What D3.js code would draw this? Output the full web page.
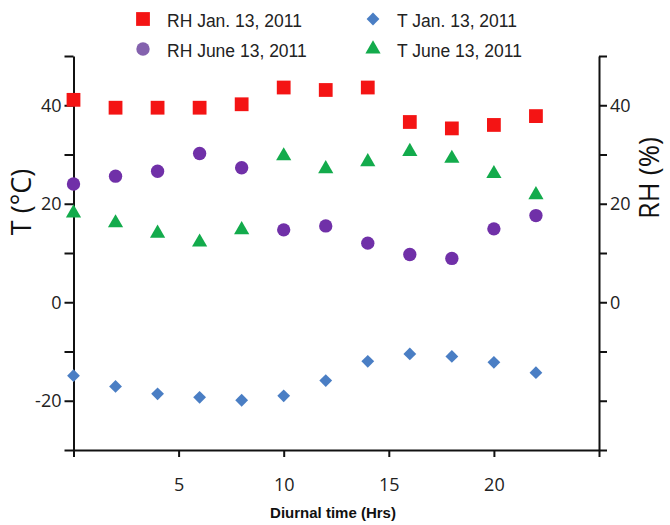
<!DOCTYPE html>
<html>
<head>
<meta charset="utf-8">
<script src="https://cdn.jsdelivr.net/npm/d3@7"></script>
<style>
  body { margin: 0; background: #fff; }
  .axis path, .axis line { stroke: #111; stroke-width: 2px; }
  .axis text { font-family: "Open Sans", sans-serif; font-size: 18px; fill: #222; }
</style>
</head>
<body>
<div id="vis"></div>
<script>
const width = 670, height = 525;

// data
const hours = [0, 2, 4, 6, 8, 10, 12, 14, 16, 18, 20, 22];
const rhJan = [41.1, 39.5, 39.5, 39.5, 40.2, 43.6, 43.1, 43.6, 36.6, 35.3, 36.0, 37.8];
const rhJune = [24.0, 25.6, 26.6, 30.2, 27.3, 14.7, 15.5, 12.0, 9.7, 8.9, 14.9, 17.6];
const tJan = [-14.9, -17.1, -18.6, -19.3, -19.9, -19.0, -15.9, -12.0, -10.5, -11.0, -12.2, -14.3];
const tJune = [18.1, 16.1, 14.0, 12.2, 14.7, 29.7, 27.1, 28.5, 30.6, 29.2, 26.1, 21.8];

const xTicks = [0, 5, 10, 15, 20, 25];
const yTicks = [-30, -20, -10, 0, 10, 20, 30, 40, 50];
const leftLabels = [-20, 0, 20, 40];
const rightLabels = [0, 20, 40];

const series = [
    { name: 'RH Jan. 13, 2011', values: rhJan, axis: 'right', shape: 'square', color: '#f41414' },
    { name: 'RH June 13, 2011', values: rhJune, axis: 'right', shape: 'circle', color: '#7030a8' },
    { name: 'T Jan. 13, 2011', values: tJan, axis: 'left', shape: 'diamond', color: '#4a7ec4' },
    { name: 'T June 13, 2011', values: tJune, axis: 'left', shape: 'triangle', color: '#13ab4c' }
];

const svg = d3.select('#vis')
    .append('svg')
    .attr('width', width)
    .attr('height', height);

svg.append('rect').attr('width', width).attr('height', height).attr('fill', '#fff');

const xScale = d3.scaleLinear().domain([0, 25]).range([73.5, 599]);
const yLeft = d3.scaleLinear().domain([-30, 50]).range([450, 56]);
const yRight = d3.scaleLinear().domain([-30, 50]).range([450, 56]);

function symbolPath(shape) {
    if (shape === 'square') return d3.symbol(d3.symbolSquare, 190)();
    if (shape === 'circle') return d3.symbol(d3.symbolCircle, 140)();
    if (shape === 'triangle') return d3.symbol(d3.symbolTriangle, 100)();
    return d3.symbol(d3.symbolSquare, 82)();
}

// axes
svg.append('g')
    .attr('class', 'axis')
    .attr('transform', 'translate(0,450)')
    .call(d3.axisBottom(xScale).tickValues(xTicks).tickSize(7).tickSizeOuter(0).tickPadding(21)
        .tickFormat(d => (d === 0 || d === 25) ? '' : d));

svg.append('g')
    .attr('class', 'axis')
    .attr('transform', 'translate(73.5,0)')
    .call(d3.axisLeft(yLeft).tickValues(yTicks).tickSize(9).tickSizeOuter(0).tickPadding(3)
        .tickFormat(d => leftLabels.includes(d) ? d : ''));

svg.append('g')
    .attr('class', 'axis')
    .attr('transform', 'translate(599,0)')
    .call(d3.axisRight(yRight).tickValues(yTicks).tickSize(8).tickSizeOuter(0).tickPadding(3)
        .tickFormat(d => rightLabels.includes(d) ? d : ''));

// axis titles
svg.append('text')
    .attr('transform', 'translate(31,202) rotate(-90)')
    .attr('text-anchor', 'middle')
    .style('font-family', '"Open Sans", sans-serif')
    .style('font-size', '27px')
    .style('fill', '#111')
    .text('T (°C)');

svg.append('text')
    .attr('transform', 'translate(659,178) rotate(-90)')
    .attr('text-anchor', 'middle')
    .style('font-family', '"Open Sans", sans-serif')
    .style('font-size', '27px')
    .style('fill', '#111')
    .text('RH (%)');

svg.append('text')
    .attr('x', 333)
    .attr('y', 518)
    .attr('text-anchor', 'middle')
    .style('font-family', '"Liberation Sans", Arial, sans-serif')
    .style('font-size', '15px')
    .style('font-weight', 'bold')
    .style('fill', '#111')
    .text('Diurnal time (Hrs)');

// points
series.forEach(s => {
    const yScale = s.axis === 'left' ? yLeft : yRight;
    svg.append('g')
        .selectAll('path')
        .data(hours.map((h, i) => ({ h: h, v: s.values[i] })))
        .join('path')
        .attr('d', symbolPath(s.shape))
        .attr('transform', d => `translate(${xScale(d.h)},${yScale(d.v)})` + (s.shape === 'diamond' ? ' rotate(45)' : ''))
        .style('fill', s.color);
});

// legend
const legendPos = [
    { x: 143, y: 21 }, { x: 143, y: 51 }, { x: 373, y: 21 }, { x: 373, y: 51 }
];
const legend = svg.append('g');
series.forEach((s, i) => {
    const p = legendPos[i];
    legend.append('path')
        .attr('d', symbolPath(s.shape))
        .attr('transform', `translate(${p.x},${p.y - 2})` + (s.shape === 'diamond' ? ' rotate(45)' : ''))
        .style('fill', s.shape === 'circle' ? '#8462ae' : s.color);
    legend.append('text')
        .attr('x', p.x + 24)
        .attr('y', p.y + 6)
        .style('font-family', '"Liberation Sans", Arial, sans-serif')
        .style('font-size', '17.5px')
        .style('fill', '#222')
        .text(s.name);
});
</script>
</body>
</html>
